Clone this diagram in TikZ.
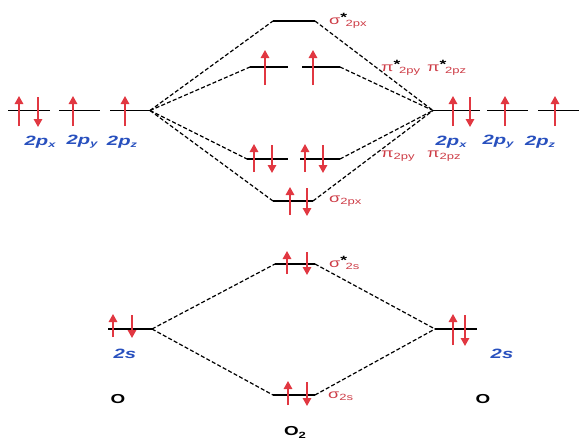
\documentclass[tikz,border=0pt]{standalone}
\usepackage{fontspec}
\setmainfont{Liberation Sans}
\usetikzlibrary{arrows.meta}
\definecolor{eRed}{RGB}{225,55,65}
\definecolor{lRed}{RGB}{205,60,70}
\definecolor{lBlue}{RGB}{40,80,190}
\newcommand{\bl}[2]{\scalebox{1.5}[1]{\fontsize{13.5}{13.5}\selectfont\bfseries\itshape #1\raisebox{-2pt}{\fontsize{8.5}{8.5}\selectfont #2}}}
\newcommand{\mo}[3]{\scalebox{1.45}[1]{{\fontsize{12.5}{12.5}\selectfont #1}#2\raisebox{-2.5pt}{\fontsize{9}{9}\selectfont #3}}}
\newcommand{\st}{\raisebox{3pt}{\textcolor{black}{\fontsize{12}{12}\selectfont\bfseries *}}\hspace{-1pt}}
\begin{document}
\begin{tikzpicture}[x=1pt,y=-1pt,
  lvl/.style={line width=1.4pt,black},
  conn/.style={line width=1.2pt,black,dash pattern=on 4pt off 2.2pt},
  eup/.style={line width=1.5pt,eRed,-{Triangle[length=8pt,width=8.5pt]}},
  blab/.style={text=lBlue,inner sep=0pt},
  rlab/.style={text=lRed,inner sep=0pt,anchor=west},
  olab/.style={inner sep=0pt}]
\useasboundingbox (0,0) rectangle (579,439);
% coordinates
\coordinate (L2p) at (150,110.5);
\coordinate (R2p) at (433,110.5);
\coordinate (sA1) at (273,21); \coordinate (sA2) at (315,21);
\coordinate (pA1) at (250,67); \coordinate (pA2) at (288,67);
\coordinate (pA3) at (302,67); \coordinate (pA4) at (340,67);
\coordinate (pB1) at (247,159); \coordinate (pB2) at (288,159);
\coordinate (pB3) at (300,159); \coordinate (pB4) at (340,159);
\coordinate (sB1) at (273,201); \coordinate (sB2) at (313,201);
\coordinate (L2s1) at (108,329); \coordinate (L2s2) at (152,329);
\coordinate (R2s1) at (435,329); \coordinate (R2s2) at (477,329);
\coordinate (ssA1) at (275,264); \coordinate (ssA2) at (315,264);
\coordinate (ssB1) at (273,395); \coordinate (ssB2) at (315,395);
% atomic levels
\draw[lvl] (8,110.5) -- (50,110.5);
\draw[lvl] (59,110.5) -- (100,110.5);
\draw[lvl] (110,110.5) -- (L2p);
\draw[lvl] (R2p) -- (480,110.5);
\draw[lvl] (487,110.5) -- (528,110.5);
\draw[lvl] (538,110.5) -- (579,110.5);
\draw[lvl] (L2s1) -- (L2s2);
\draw[lvl] (R2s1) -- (R2s2);
% molecular levels
\draw[lvl] (sA1) -- (sA2);
\draw[lvl] (pA1) -- (pA2); \draw[lvl] (pA3) -- (pA4);
\draw[lvl] (pB1) -- (pB2); \draw[lvl] (pB3) -- (pB4);
\draw[lvl] (sB1) -- (sB2);
\draw[lvl] (ssA1) -- (ssA2);
\draw[lvl] (ssB1) -- (ssB2);
% connectors
\draw[conn] (L2p) -- (sA1); \draw[conn] (L2p) -- (pA1);
\draw[conn] (L2p) -- (pB1); \draw[conn] (L2p) -- (sB1);
\draw[conn] (sA2) -- (R2p); \draw[conn] (pA4) -- (R2p);
\draw[conn] (pB4) -- (R2p); \draw[conn] (sB2) -- (R2p);
\draw[conn] (L2s2) -- (ssA1); \draw[conn] (L2s2) -- (ssB1);
\draw[conn] (ssA2) -- (R2s1); \draw[conn] (ssB2) -- (R2s1);
% electrons: left 2p
\draw[eup] (19,126) -- (19,96);
\draw[eup] (38,97) -- (38,127);
\draw[eup] (73,126) -- (73,96);
\draw[eup] (125,126) -- (125,96);
% right 2p
\draw[eup] (453,126) -- (453,96);
\draw[eup] (470,97) -- (470,127);
\draw[eup] (505,126) -- (505,96);
\draw[eup] (555,126) -- (555,96);
% pi*
\draw[eup] (265,85) -- (265,50);
\draw[eup] (313,85) -- (313,50);
% pi bonding
\draw[eup] (254,172) -- (254,144);
\draw[eup] (272,145) -- (272,173);
\draw[eup] (305,172) -- (305,144);
\draw[eup] (323,145) -- (323,173);
% sigma 2px
\draw[eup] (290,215) -- (290,187);
\draw[eup] (307,188) -- (307,216);
% sigma* 2s
\draw[eup] (287,274) -- (287,251);
\draw[eup] (307,252) -- (307,275);
% sigma 2s
\draw[eup] (288,405) -- (288,381);
\draw[eup] (307,382) -- (307,406);
% 2s atoms
\draw[eup] (113,337) -- (113,314);
\draw[eup] (132,315) -- (132,338);
\draw[eup] (453,345) -- (453,314);
\draw[eup] (465,315) -- (465,346);
% blue labels
\node[blab] (l2px) at (40,142) {\bl{2p}{x}};
\node[blab] (l2py) at (82,142) {\bl{2p}{y}};
\node[blab] (l2pz) at (122,142) {\bl{2p}{z}};
\node[blab] (r2px) at (451,142) {\bl{2p}{x}};
\node[blab] (r2py) at (498,142) {\bl{2p}{y}};
\node[blab] (r2pz) at (540,142) {\bl{2p}{z}};
\node[blab] (l2s) at (125,355) {\bl{2s}{}};
\node[blab] (r2s) at (502,355) {\bl{2s}{}};
% red labels
\node[rlab] (tsA) at (329,21) {\mo{σ}{\st}{2px}};
\node[rlab] (tpA1) at (381,68) {\mo{π}{\st}{2py}};
\node[rlab] (tpA2) at (427,68) {\mo{π}{\st}{2pz}};
\node[rlab] (tpB1) at (381,156) {\mo{π}{}{2py}};
\node[rlab] (tpB2) at (427,156) {\mo{π}{}{2pz}};
\node[rlab] (tsB) at (329,201) {\mo{σ}{}{2px}};
\node[rlab] (tssA) at (329,263) {\mo{σ}{\st}{2s}};
\node[rlab] (tssB) at (328,396) {\mo{σ}{}{2s}};
% atom labels
\node[olab] (oL) at (118,399) {\scalebox{1.45}[1]{\fontsize{13}{13}\selectfont\bfseries O}};
\node[olab] (oR) at (483,399) {\scalebox{1.45}[1]{\fontsize{13}{13}\selectfont\bfseries O}};
\node[olab] (o2) at (295,432) {\scalebox{1.45}[1]{\fontsize{13}{13}\selectfont\bfseries O\raisebox{-3pt}{\fontsize{9}{9}\selectfont 2}}};
\end{tikzpicture}
\end{document}
